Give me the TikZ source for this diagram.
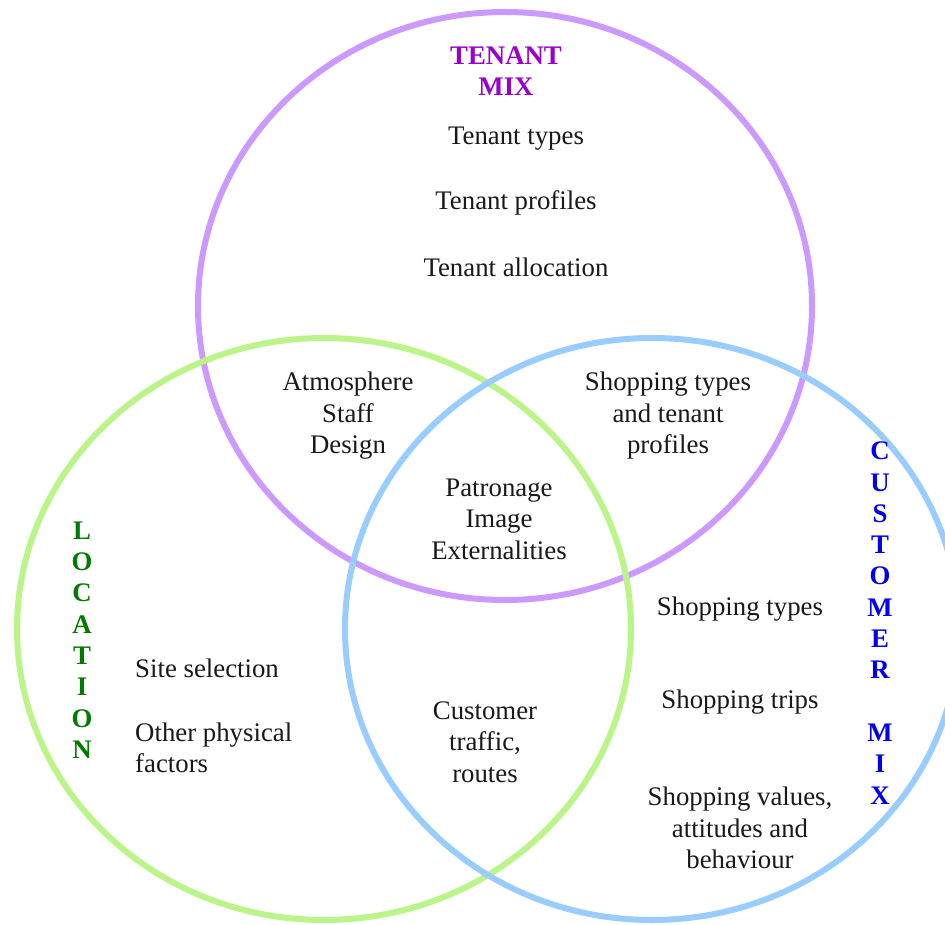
\documentclass[tikz,border=0pt]{standalone}
\usepackage{fontspec}
\setmainfont{Liberation Serif}
\definecolor{tenantring}{HTML}{CC99FF}
\definecolor{locring}{HTML}{BBF58A}
\definecolor{custring}{HTML}{99CCFF}
\definecolor{tenanttxt}{HTML}{9900CC}
\definecolor{loctxt}{HTML}{007A00}
\definecolor{custtxt}{HTML}{0000EE}
\begin{document}
\begin{tikzpicture}[x=1pt,y=-1pt,
  ring/.style={line width=6pt},
  body/.style={font=\fontsize{26.8}{31.5}\selectfont, text=black!90, inner sep=0pt, align=center},
  head/.style={font=\fontsize{26.8}{31.3}\selectfont\bfseries, inner sep=0pt, align=center}]
\useasboundingbox (0,0) rectangle (945,925);
\fill[white] (0,0) rectangle (945,925);
\draw[ring, tenantring] (505,306) ellipse [x radius=307pt, y radius=294pt];
\draw[ring, locring] (324,629) ellipse [x radius=307pt, y radius=291pt];
\draw[ring, custring] (652,629) ellipse [x radius=307pt, y radius=291pt];

\node[head, text=tenanttxt] (tenanthead) at (506,71) {TENANT\\MIX};
\node[body] (ttypes) at (516,139) {Tenant types};
\node[body] (tprof) at (516,203) {Tenant profiles};
\node[body] (talloc) at (516,267) {Tenant allocation};

\node[body] (atmos) at (348,416) {Atmosphere\\Staff\\Design};
\node[body] (shoptenant) at (668,416) {Shopping types\\and tenant\\profiles};
\node[body] (patron) at (499,519) {Patronage\\Image\\Externalities};

\node[head, text=loctxt] (lochead) at (82,640) {L\\O\\C\\A\\T\\I\\O\\N};
\node[body, anchor=west] (site) at (135,668) {Site selection};
\node[body, anchor=west, align=left] (other) at (135,748) {Other physical\\factors};
\node[body] (traffic) at (485,742) {Customer\\traffic,\\routes};

\node[head, text=custtxt] (custhead) at (880,623) {C\\U\\S\\T\\O\\M\\E\\R\\[31.3pt]M\\I\\X};
\node[body] (stypes) at (740,609) {Shopping types};
\node[body] (strips) at (740,702) {Shopping trips};
\node[body] (svalues) at (740,828) {Shopping values,\\attitudes and\\behaviour};
\end{tikzpicture}
\end{document}
